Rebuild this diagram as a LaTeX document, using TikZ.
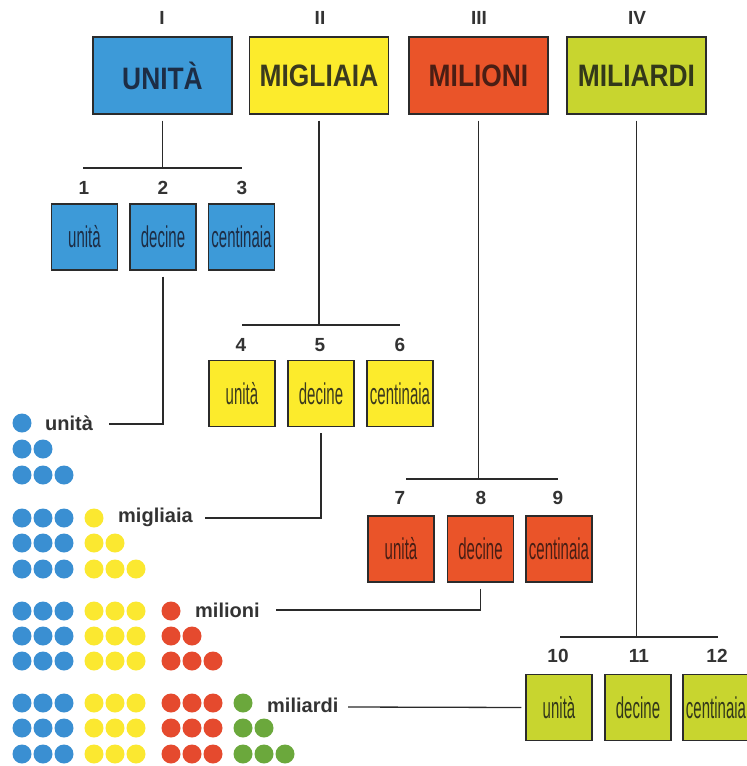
\documentclass[tikz,border=0pt]{standalone}
\usepackage{fontspec}
\setmainfont{Liberation Sans}
\usepackage{graphicx}
\definecolor{cblue}{HTML}{3D9AD8}
\definecolor{cyellow}{HTML}{FCEB2C}
\definecolor{cred}{HTML}{EA5429}
\definecolor{cgreen}{HTML}{C8D52F}
\definecolor{dblue}{HTML}{3A8FD2}
\definecolor{dyellow}{HTML}{FBE830}
\definecolor{dred}{HTML}{E54A2E}
\definecolor{dgreen}{HTML}{6BA83C}
\definecolor{boxline}{HTML}{2B2B2B}
\definecolor{linecol}{HTML}{2A2A2A}
\definecolor{txtblue}{HTML}{1D2D45}
\definecolor{txtyellow}{HTML}{3B3A1E}
\definecolor{txtred}{HTML}{4A1E14}
\definecolor{txtgreen}{HTML}{33381A}
\definecolor{numcol}{HTML}{333333}
\newcommand\bigtxt[1]{\fontsize{31}{31}\selectfont\bfseries\scalebox{0.85}[1]{#1}}
\newcommand\smtxt[1]{\fontsize{30}{30}\selectfont\scalebox{0.5}[1]{#1}}
\begin{document}
\begin{tikzpicture}[x=1pt,y=-1pt,
  bigbox/.style={draw=boxline, line width=1.4pt, minimum width=139pt, minimum height=77pt, inner sep=0pt},
  smallbox/.style={draw=boxline, line width=1.4pt, minimum width=66pt, minimum height=66pt, inner sep=0pt},
  numlab/.style={font=\fontsize{19}{19}\selectfont\bfseries, text=numcol, inner sep=0pt},
  conn/.style={line width=1.3pt, draw=linecol},
  grouplab/.style={anchor=west, font=\fontsize{20}{20}\selectfont\bfseries, text=numcol, inner sep=0pt}]
\useasboundingbox (0,0) rectangle (747,766);
\clip (0,0) rectangle (747,766);
\fill[white] (0,0) rectangle (747,766);

% roman numerals
\node[numlab] (rI) at (162,18) {I};
\node[numlab] (rII) at (320,18) {II};
\node[numlab] (rIII) at (479,18) {III};
\node[numlab] (rIV) at (637,18) {IV};

% big boxes
\node[bigbox, fill=cblue, text=txtblue] (U) at (162.5,75.5) {\bigtxt{UNITÀ}};
\node[bigbox, fill=cyellow, text=txtyellow] (M) at (319,75.5) {\bigtxt{MIGLIAIA}};
\node[bigbox, fill=cred, text=txtred] (MI) at (478.5,75.5) {\bigtxt{MILIONI}};
\node[bigbox, fill=cgreen, text=txtgreen] (MD) at (636.5,75.5) {\bigtxt{MILIARDI}};

% bars
\coordinate (b1L) at (83,168); \coordinate (b1R) at (242,168);
\coordinate (b2L) at (242,325); \coordinate (b2R) at (400,325);
\coordinate (b3L) at (406,479); \coordinate (b3R) at (558,479);
\coordinate (b4L) at (560,637); \coordinate (b4R) at (718,637);
\draw[conn] (b1L) -- (b1R);
\draw[conn] (b2L) -- (b2R);
\draw[conn] (b3L) -- (b3R);
\draw[conn] (b4L) -- (b4R);
\draw[conn, shorten <=6pt] (U.south) -- (U.south |- b1L);
\draw[conn, shorten <=6pt] (M.south) -- (M.south |- b2L);
\draw[conn, shorten <=6pt] (MI.south) -- (MI.south |- b3L);
\draw[conn, shorten <=6pt] (MD.south) -- (MD.south |- b4L);

% numbers
\node[numlab] (n1) at (84,188) {1};
\node[numlab] (n2) at (163,188) {2};
\node[numlab] (n3) at (242,188) {3};
\node[numlab] (n4) at (241,345) {4};
\node[numlab] (n5) at (320,345) {5};
\node[numlab] (n6) at (400,345) {6};
\node[numlab] (n7) at (400,498) {7};
\node[numlab] (n8) at (481,498) {8};
\node[numlab] (n9) at (558,498) {9};
\node[numlab] (n10) at (558,656) {10};
\node[numlab] (n11) at (639,656) {11};
\node[numlab] (n12) at (717,656) {12};

% small boxes
\node[smallbox, fill=cblue, text=txtblue] (a1) at (84.5,237) {\smtxt{unità}};
\node[smallbox, fill=cblue, text=txtblue] (a2) at (163,237) {\smtxt{decine}};
\node[smallbox, fill=cblue, text=txtblue] (a3) at (241.5,237) {\smtxt{centinaia}};
\node[smallbox, fill=cyellow, text=txtyellow] (y1) at (242,393.5) {\smtxt{unità}};
\node[smallbox, fill=cyellow, text=txtyellow] (y2) at (321,393.5) {\smtxt{decine}};
\node[smallbox, fill=cyellow, text=txtyellow] (y3) at (400,393.5) {\smtxt{centinaia}};
\node[smallbox, fill=cred, text=txtred] (r1) at (401,549) {\smtxt{unità}};
\node[smallbox, fill=cred, text=txtred] (r2) at (480.5,549) {\smtxt{decine}};
\node[smallbox, fill=cred, text=txtred] (r3) at (559,549) {\smtxt{centinaia}};
\node[smallbox, fill=cgreen, text=txtgreen] (g1) at (559,707.5) {\smtxt{unità}};
\node[smallbox, fill=cgreen, text=txtgreen] (g2) at (638,707.5) {\smtxt{decine}};
\node[smallbox, fill=cgreen, text=txtgreen] (g3) at (716,707.5) {\smtxt{centinaia}};

% group labels
\node[grouplab] (lu) at (45,423) {unità};
\node[grouplab] (lm) at (118,517) {migliaia};
\node[grouplab] (li) at (195,610) {milioni};
\node[grouplab] (ld) at (267,705) {miliardi};

% connectors to labels
\coordinate (e1) at (109,424);
\coordinate (e2) at (205,518);
\coordinate (e3) at (276,610);
\coordinate (e4) at (348,707);
\draw[conn, shorten <=6pt] (a2.south) |- (e1);
\draw[conn, shorten <=6pt] (y2.south) |- (e2);
\draw[conn, shorten <=6pt] (r2.south) |- (e3);
\draw[conn, shorten >=4pt] (e4) -- (g1.west);

% dots
\foreach \yy/\g/\r in {423/0/1, 449/0/2, 475/0/3, 518/1/1, 543/1/2, 569/1/3, 611/2/1, 636/2/2, 661/2/3, 703/3/1, 728/3/2, 754/3/3} {
  \foreach \c/\xb/\col in {0/22/dblue, 1/94/dyellow, 2/171/dred, 3/243/dgreen} {
    \pgfmathtruncatemacro\nd{\c<\g ? 3 : (\c==\g ? \r : 0)}
    \ifnum\nd>0
      \foreach \k in {1,...,\nd} {\fill[\col] ({\xb+21*(\k-1)},\yy) circle (9.5);}
    \fi
  }
}
\end{tikzpicture}
\end{document}
